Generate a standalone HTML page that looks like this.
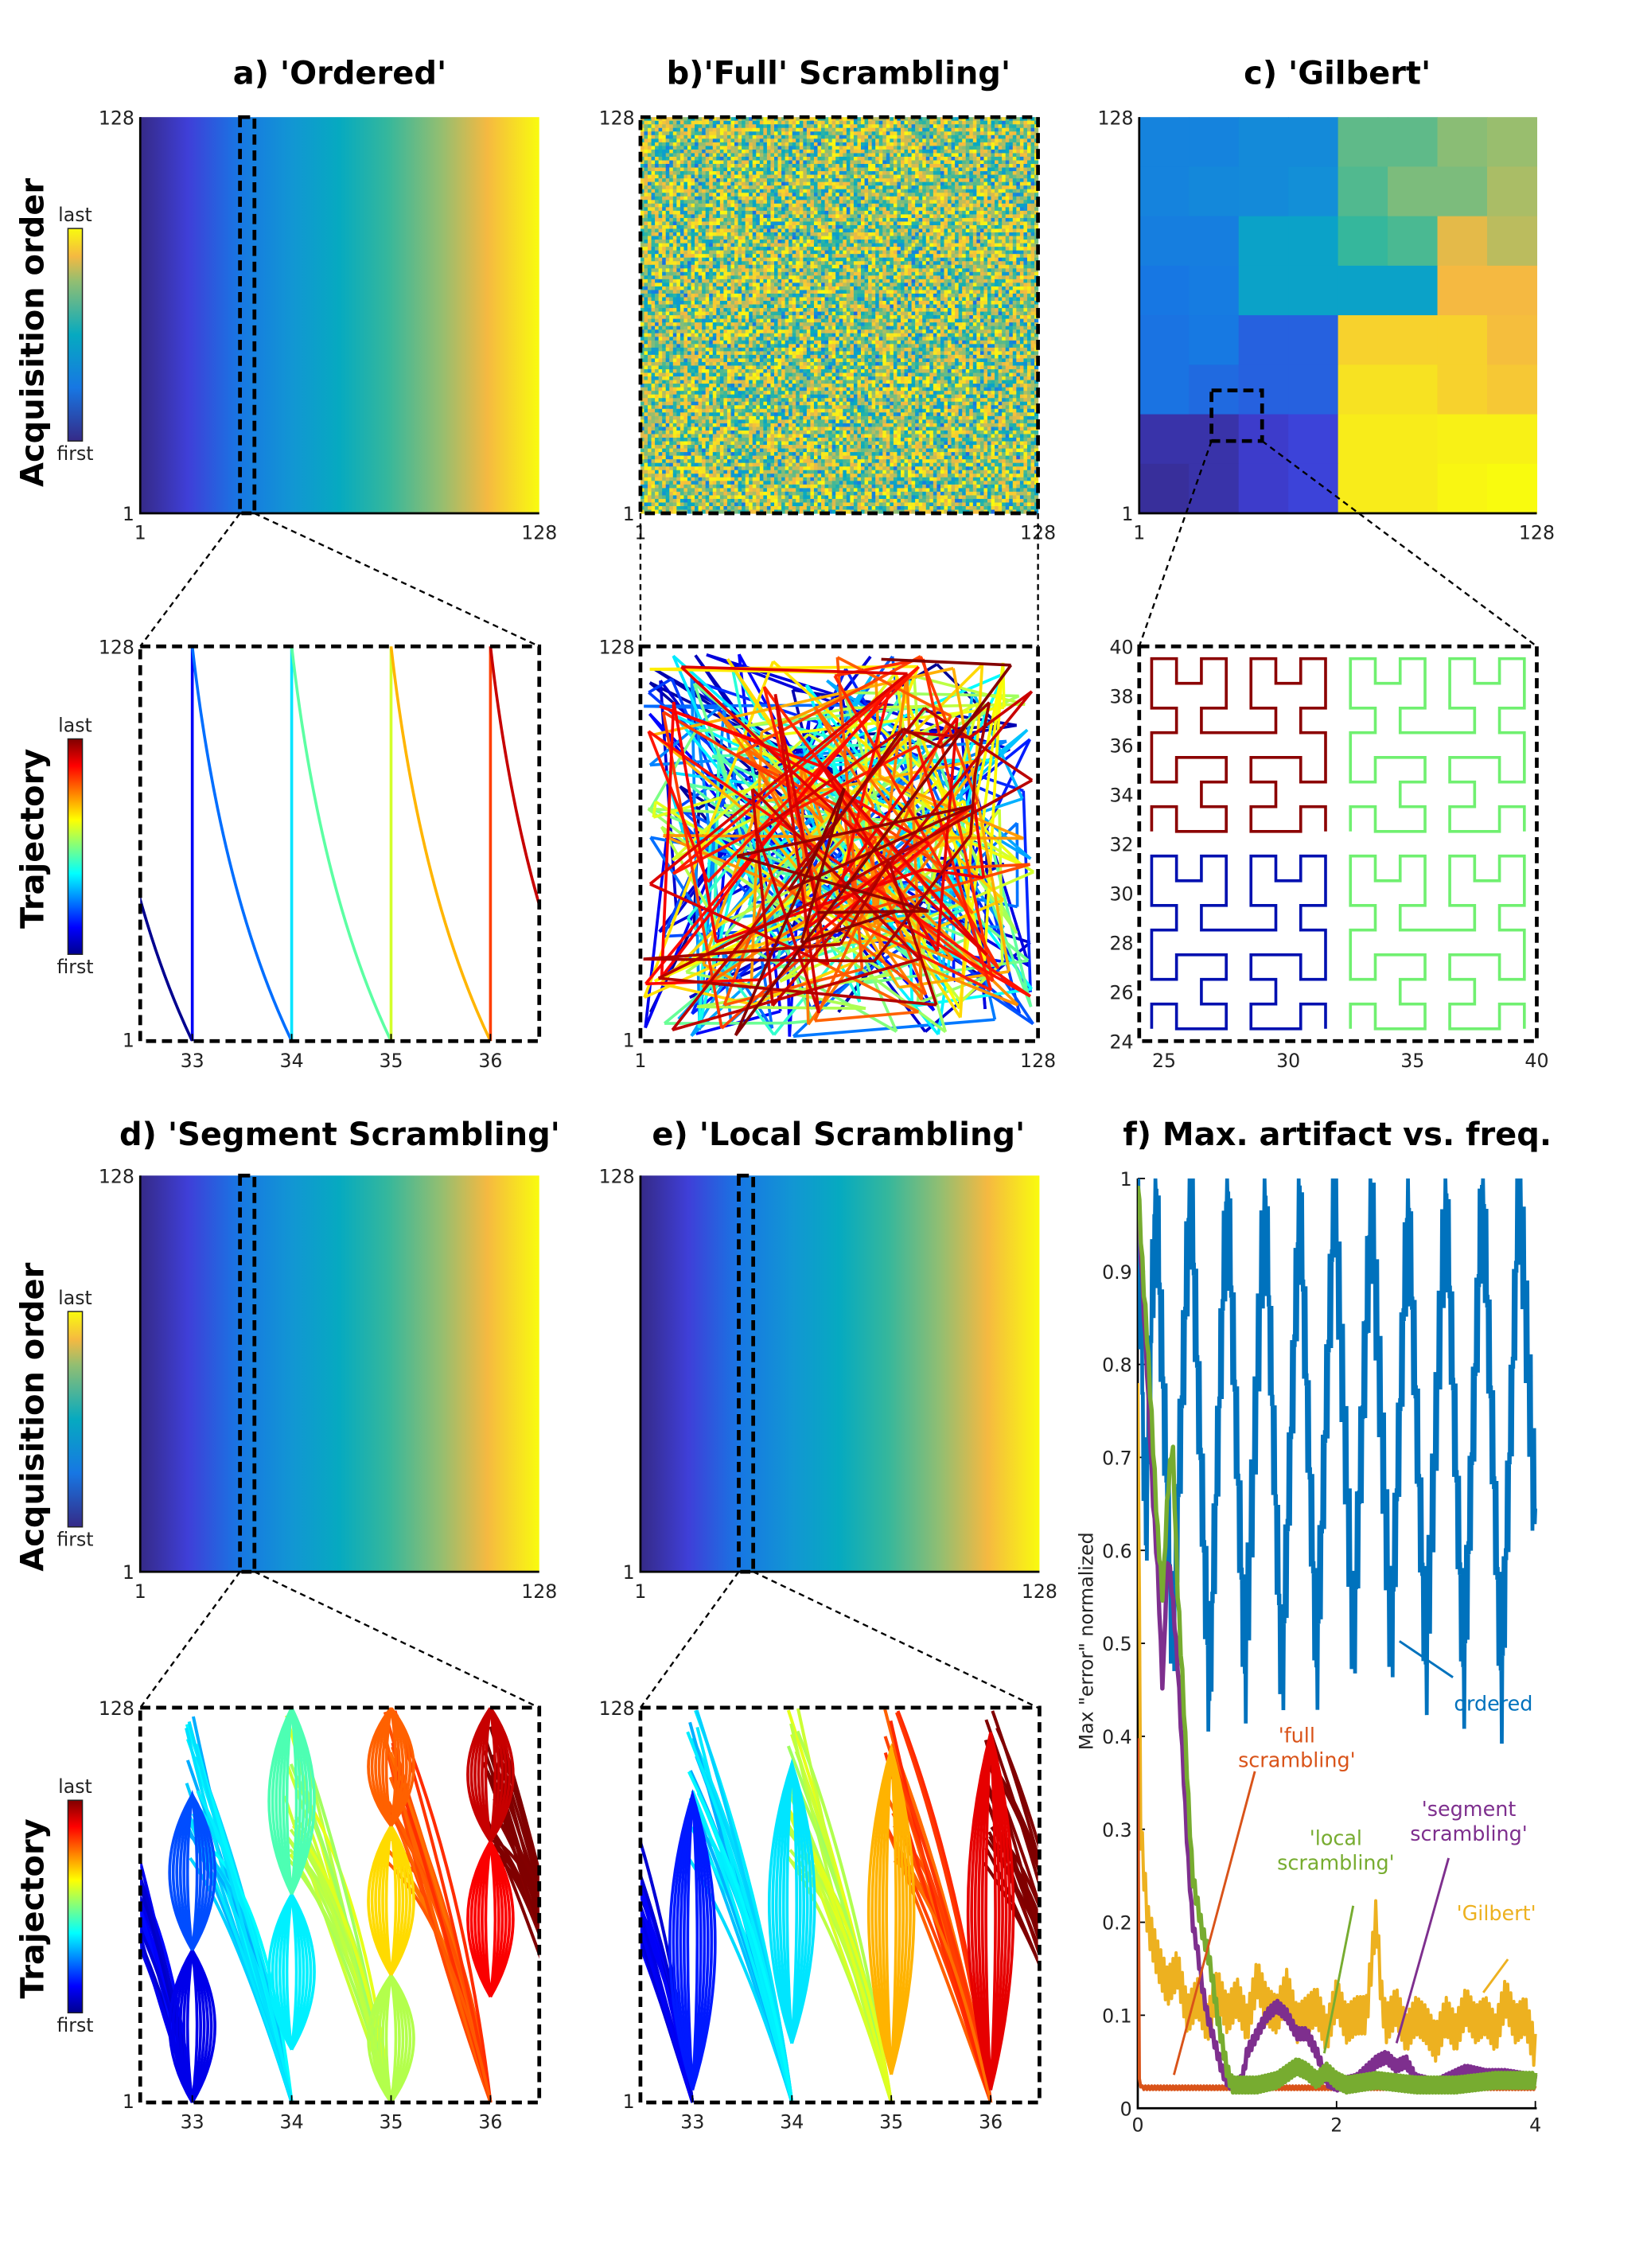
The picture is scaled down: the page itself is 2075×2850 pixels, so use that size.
<!DOCTYPE html>
<html><head><meta charset="utf-8"><style>
html,body{margin:0;padding:0;background:#fff;}
svg{display:block;font-family:"DejaVu Sans","Liberation Sans",sans-serif;}
</style></head><body>
<svg id="fig" width="2075" height="2850" viewBox="0 0 1142 1568.5" preserveAspectRatio="none" xmlns="http://www.w3.org/2000/svg">
<defs>
<linearGradient id="parH" x1="0" y1="0" x2="1" y2="0">
<stop offset="0" stop-color="#352a87"/><stop offset="0.12" stop-color="#3f3fd8"/><stop offset="0.25" stop-color="#1777e3"/><stop offset="0.38" stop-color="#1296d3"/><stop offset="0.5" stop-color="#06aac0"/><stop offset="0.62" stop-color="#35b79c"/><stop offset="0.75" stop-color="#91be72"/><stop offset="0.87" stop-color="#f5b941"/><stop offset="1" stop-color="#f9fb0e"/>
</linearGradient>
<linearGradient id="parV" x1="0" y1="1" x2="0" y2="0">
<stop offset="0" stop-color="#352a87"/><stop offset="0.25" stop-color="#1777e3"/><stop offset="0.5" stop-color="#06aac0"/><stop offset="0.75" stop-color="#91be72"/><stop offset="0.87" stop-color="#f5b941"/><stop offset="1" stop-color="#f9fb0e"/>
</linearGradient>
<linearGradient id="jetV" x1="0" y1="1" x2="0" y2="0">
<stop offset="0" stop-color="#00008f"/><stop offset="0.125" stop-color="#0000ff"/><stop offset="0.375" stop-color="#00ffff"/><stop offset="0.625" stop-color="#ffff00"/><stop offset="0.875" stop-color="#ff0000"/><stop offset="1" stop-color="#800000"/>
</linearGradient>
<clipPath id="cA2"><rect x="97" y="447" width="276" height="273"/></clipPath>
<clipPath id="cB2"><rect x="443" y="447" width="275" height="273"/></clipPath>
<clipPath id="cD2"><rect x="97" y="1181" width="276" height="274"/></clipPath>
<clipPath id="cE2"><rect x="443" y="1181" width="275" height="274"/></clipPath>
<clipPath id="cF"><rect x="787" y="812" width="277" height="647"/></clipPath>
</defs>
<g id="root"></g>
</svg>
<script>
// ---- panel f data ----
const ordPeakX=[0.0,0.18,0.53,0.9,1.28,1.63,1.98,2.35,2.72,3.1,3.47,3.84];
const ordPeakY=[1.0,1.0,1.0,1.0,0.99,0.98,0.99,0.98,0.98,0.99,1.0,1.0];
const ordTroughX=[0.08,0.35,0.72,1.08,1.45,1.8,2.17,2.55,2.9,3.28,3.66,4.0];
const ordTroughY=[0.62,0.5,0.45,0.47,0.46,0.48,0.5,0.5,0.48,0.47,0.46,0.63];
const localX=[0,0.05,0.1,0.15,0.2,0.25,0.3,0.35,0.4,0.45,0.5,0.55,0.6,0.65,0.7,0.75,0.8,0.85,0.9,0.95,1.0,1.1,1.2,1.4,1.6,1.7,1.8,1.9,2.0,2.1,2.4,2.8,3.2,3.6,4.0];
const localY=[1,0.9,0.82,0.72,0.62,0.55,0.66,0.72,0.56,0.46,0.35,0.25,0.22,0.19,0.17,0.14,0.1,0.07,0.04,0.025,0.025,0.025,0.025,0.03,0.045,0.04,0.03,0.04,0.03,0.025,0.03,0.025,0.025,0.03,0.03];
const segX=[0,0.05,0.1,0.15,0.2,0.25,0.3,0.35,0.4,0.45,0.5,0.55,0.6,0.65,0.7,0.75,0.8,0.85,0.9,0.95,1.0,1.05,1.1,1.2,1.3,1.4,1.5,1.6,1.7,1.8,1.9,2.0,2.2,2.4,2.5,2.6,2.7,2.8,3.0,3.3,3.5,3.7,4.0];
const segY=[0.98,0.88,0.78,0.66,0.58,0.45,0.6,0.55,0.48,0.38,0.28,0.2,0.17,0.13,0.1,0.08,0.06,0.04,0.03,0.025,0.025,0.03,0.06,0.08,0.1,0.11,0.1,0.08,0.08,0.06,0.03,0.025,0.03,0.05,0.055,0.045,0.05,0.03,0.025,0.04,0.035,0.035,0.03];
const gilX=[0,0.03,0.1,0.2,0.3,0.4,0.5,0.6,0.7,0.8,0.9,1.0,1.1,1.2,1.3,1.4,1.5,1.6,1.7,1.8,1.9,2.0,2.1,2.2,2.3,2.4,2.45,2.5,2.6,2.7,2.8,2.9,3.0,3.1,3.2,3.3,3.4,3.5,3.6,3.7,3.8,3.9,4.0];
const gilY=[0.8,0.3,0.2,0.16,0.13,0.15,0.1,0.12,0.09,0.13,0.1,0.12,0.09,0.14,0.11,0.1,0.13,0.09,0.1,0.11,0.08,0.12,0.09,0.1,0.1,0.21,0.12,0.09,0.11,0.08,0.1,0.09,0.07,0.1,0.08,0.11,0.09,0.1,0.08,0.12,0.09,0.1,0.06];
const fullX=[0,0.015,0.04,4];
const fullY=[0.4,0.03,0.022,0.022];
const fTicksY=[0,0.1,0.2,0.3,0.4,0.5,0.6,0.7,0.8,0.9,1];
const fTicksX=[0,2,4];
const gilGrid=[
[0.3,0.3,0.33,0.33,0.68,0.68,0.74,0.76],
[0.3,0.32,0.33,0.35,0.66,0.72,0.72,0.78],
[0.28,0.28,0.45,0.45,0.62,0.65,0.85,0.8],
[0.25,0.27,0.45,0.45,0.45,0.45,0.87,0.87],
[0.24,0.26,0.2,0.2,0.92,0.92,0.92,0.88],
[0.24,0.22,0.2,0.2,0.95,0.95,0.92,0.9],
[0.05,0.05,0.1,0.13,0.97,0.97,0.98,0.98],
[0.03,0.05,0.1,0.13,0.97,0.97,0.99,1.0]];

const NS='http://www.w3.org/2000/svg';
const root=document.getElementById('root');
function mk(tag,attrs,parent){const e=document.createElementNS(NS,tag);for(const k in attrs)e.setAttribute(k,attrs[k]);(parent||root).appendChild(e);return e;}
function txt(s,x,y,size,anchor,extra,parent){const e=mk('text',Object.assign({x:x,y:y,'font-size':size,'text-anchor':anchor||'middle',fill:'#222'},extra||{}),parent);e.textContent=s;return e;}
function lerpC(stops,t){t=Math.max(0,Math.min(1,t));for(let i=1;i<stops.length;i++){if(t<=stops[i][0]){const a=stops[i-1],b=stops[i];const u=(t-a[0])/(b[0]-a[0]||1);return 'rgb('+[1,2,3].map(j=>Math.round(a[j]+(b[j]-a[j])*u)).join(',')+')';}}const l=stops[stops.length-1];return 'rgb('+l[1]+','+l[2]+','+l[3]+')';}
const PAR=[[0,53,42,135],[0.12,63,63,216],[0.25,23,119,227],[0.38,18,150,211],[0.5,6,170,192],[0.62,53,183,156],[0.75,145,190,114],[0.87,245,185,65],[1,249,251,14]];
const JET=[[0,0,0,143],[0.125,0,0,255],[0.375,0,255,255],[0.625,255,255,0],[0.875,255,0,0],[1,128,0,0]];
const par=t=>lerpC(PAR,t), jet=t=>lerpC(JET,t);
let seed=12345;function rnd(){seed=(seed*1103515245+12345)%2147483648;return seed/2147483648;}

const colX=[97,443,788], W=276, H=274;
const rowY=[81,447,813,1181];

[['a) \'Ordered\'',235,58],['b)\'Full\' Scrambling\'',580,58],['c) \'Gilbert\'',925,58],['d) \'Segment Scrambling\'',235,792],['e) \'Local Scrambling\'',580,792],['f) Max. artifact vs. freq.',925,792]].forEach((t,i)=>{
 const e=txt(t[0],t[1],t[2],22,'middle',{'font-weight':'bold',fill:'#000'});
 
 
});

function rowLabel(label,cy,cbTop,cbBot,grad,name){
 const g=mk('g',{});
 
 
 txt(label,30,cy,22,'middle',{'font-weight':'bold',fill:'#000',transform:'rotate(-90 30 '+cy+')'},g);
 const r=mk('rect',{x:47,y:cbTop,width:10,height:cbBot-cbTop,fill:'url(#'+grad+')',stroke:'#222','stroke-width':0.8},g);
 
 
 txt('last',52,cbTop-5,13,'middle',{},g);
 txt('first',52,cbBot+13,13,'middle',{},g);
}
rowLabel('Acquisition order',230,158,305,'parV','row1-label');
rowLabel('Trajectory',580,511,660,'jetV','row2-label');
rowLabel('Acquisition order',980,907,1056,'parV','row3-label');
rowLabel('Trajectory',1320,1245,1392,'jetV','row4-label');

function axisFrame(x,y,w,h,dashed,name){
 const g=mk('g',{});
 
 
 if(dashed){mk('rect',{x:x,y:y,width:w,height:h,fill:'none',stroke:'#000','stroke-width':2.6,'stroke-dasharray':'7,4'},g);}
 else{mk('path',{d:'M'+x+' '+y+'V'+(y+h)+'H'+(x+w),fill:'none',stroke:'#000','stroke-width':1.5},g);}
 return g;
}
function stdTicks(x,y,w,h){
 txt('128',x-4,y+5,13,'end');txt('1',x-4,y+h+5,13,'end');
 txt('1',x,y+h+18,13,'middle');txt('128',x+w,y+h+18,13,'middle');
}

[[0,0,'panel-a-order'],[0,2,'panel-d-order'],[1,2,'panel-e-order']].forEach(p=>{
 const x=colX[p[0]],y=rowY[p[1]];
 const r=mk('rect',{x:x,y:y,width:W,height:H,fill:'url(#parH)'});
 
 
 axisFrame(x,y,W,H,false,p[2]+'-axes');
 stdTicks(x,y,W,H);
});
{const g=mk('g',{});
 
 
 const n=110,cw=275/n,ch=274/n;
 for(let i=0;i<n;i++)for(let j=0;j<n;j++){mk('rect',{x:(443+i*cw).toFixed(2),y:(81+j*ch).toFixed(2),width:(cw+0.3).toFixed(2),height:(ch+0.3).toFixed(2),fill:par(0.2+0.8*Math.sqrt(rnd()))},g);}
 axisFrame(443,81,275,274,true,'panel-b-axes');stdTicks(443,81,275,274);}
{const g=mk('g',{});
 
 
 const cw=275/8,ch=274/8;
 gilGrid.forEach((row,r)=>row.forEach((v,c)=>{mk('rect',{x:788+c*cw,y:81+r*ch,width:cw+0.3,height:ch+0.3,fill:par(v)},g);}));
 axisFrame(788,81,275,274,false,'panel-c-axes');stdTicks(788,81,275,274);}

function dash(d,name){const p=mk('path',{d:d,fill:'none',stroke:'#000','stroke-width':1.3,'stroke-dasharray':'4,3'});}
function bigdash(x,y,w,h,name){const p=mk('rect',{x:x,y:y,width:w,height:h,fill:'none',stroke:'#000','stroke-width':2.6,'stroke-dasharray':'7,4'});}
bigdash(166,81,10,274,'zoom-rect-a');dash('M166 355L97 447M176 355L373 447','zoom-lines-a');
dash('M443 355L443 447M718 355L718 447','zoom-lines-b');
bigdash(838,270,35,35,'zoom-rect-c');dash('M838 305L788 447M873 305L1063 447','zoom-lines-c');
bigdash(166,813,10,274,'zoom-rect-d');dash('M166 1087L97 1181M176 1087L373 1181','zoom-lines-d');
bigdash(511,813,10,274,'zoom-rect-e');dash('M511 1087L443 1181M521 1087L718 1181','zoom-lines-e');

const tx=(x,x0)=>x0+36+(x-33)*68.75;
function ty(v,y0){return y0+273-(v-1)/127*273;}
function trajTicks(x0,y0){
 [33,34,35,36].forEach(k=>{mk('line',{x1:tx(k,x0),x2:tx(k,x0),y1:y0+273,y2:y0+268,stroke:'#000','stroke-width':1});txt(String(k),tx(k,x0),y0+291,13,'middle');});
 txt('128',x0-4,y0+5,13,'end');txt('1',x0-4,y0+277,13,'end');
}
{const x0=97,y0=447;const g=mk('g',{'clip-path':'url(#cA2)'});
 
 
 [32,33,34,35,36].forEach((k,i)=>{
  const c=jet(i/4.3);
  const xa=tx(k,x0),ya=ty(128,y0),xb=tx(k+1,x0),yb=ty(1,y0);
  mk('path',{d:'M'+xa+' '+ya+'Q'+(xa+0.28*68.75)+' '+(ya+0.62*273)+' '+xb+' '+yb,fill:'none',stroke:c,'stroke-width':2},g);
  mk('line',{x1:xb,x2:xb,y1:yb,y2:ya,stroke:jet((i+0.5)/4.3),'stroke-width':2},g);
 });
 axisFrame(x0,y0,276,273,true,'panel-a-traj-axes');trajTicks(x0,y0);}
{const g=mk('g',{'clip-path':'url(#cB2)'});
 
 
 let px=450,py=700;const N=420;
 for(let i=0;i<N;i++){const nx=445+rnd()*271,ny=452+rnd()*266;mk('line',{x1:px.toFixed(1),y1:py.toFixed(1),x2:nx.toFixed(1),y2:ny.toFixed(1),stroke:jet(i/N),'stroke-width':2},g);px=nx;py=ny;}
 axisFrame(443,447,275,273,true,'panel-b-traj-axes');
 txt('128',439,452,13,'end');txt('1',439,724,13,'end');txt('1',443,738,13,'middle');txt('128',718,738,13,'middle');}
{const g=mk('g',{});
 
 
 const cx=v=>788+(v-24)*275/16, cy=v=>720-(v-24)*273/16;
 function d2xy(n,d){let x=0,y=0,t=d;for(let s=1;s<n;s*=2){const rx=1&(t>>1),ry=1&(t^rx);if(ry===0){if(rx===1){x=s-1-x;y=s-1-y;}const tmp=x;x=y;y=tmp;}x+=s*rx;y+=s*ry;t>>=2;}return [x,y];}
 function hil(ox,oy,col,name){let d='';for(let i=0;i<64;i++){const p=d2xy(8,i);const X=ox+(p[0]+0.5),Y=oy+(p[1]+0.5);d+=(i?'L':'M')+cx(X).toFixed(1)+' '+cy(Y).toFixed(1);}const e=mk('path',{d:d,fill:'none',stroke:col,'stroke-width':2},g);}
 hil(24,24,'#0010b0','hilbert-blue');
 hil(24,32,'#8b0000','hilbert-red');
 hil(32,24,'#70f070','hilbert-green-low');
 hil(32,32,'#70f070','hilbert-green-high');
 axisFrame(788,447,275,273,true,'panel-c-traj-axes');
 [24,26,28,30,32,34,36,38,40].forEach(v=>txt(String(v),784,cy(v)+5,13,'end'));
 [25,30,35,40].forEach(v=>txt(String(v),cx(v),738,13,'middle'));}
function bundles(x0,y0,clip,name,lobes,nb){
 const g=mk('g',{'clip-path':'url(#'+clip+')'});
 
 
 [32,33,34,35,36].forEach((k,i)=>{
  const base=i/4.3;
  for(let j=0;j<nb;j++){
   const off=(rnd()-0.5)*0.35, bend=(rnd()-0.3)*0.35;
   const xa=tx(k+off*0.4,x0),xb=tx(k+1,x0),yb=ty(1,y0);
   const sy=ty(128-rnd()*50,y0);
   mk('path',{d:'M'+xa.toFixed(1)+' '+sy.toFixed(1)+'Q'+tx(k+0.5+bend,x0).toFixed(1)+' '+ty(64+off*60,y0).toFixed(1)+' '+xb.toFixed(1)+' '+yb.toFixed(1),fill:'none',stroke:jet(base+0.06+rnd()*0.08),'stroke-width':2.2},g);
  }
 });
 lobes.forEach(L=>{const k=L[0],a=L[1],b=L[2],c=jet(L[3]);
  for(let j=0;j<6;j++){const w=(0.06+j*0.045)*68.75;const xk=tx(k,x0),ya=ty(a,y0),yb=ty(b,y0),ym=(ya+yb)/2;
   mk('path',{d:'M'+xk+' '+ya+'Q'+(xk-w*1.6)+' '+ym+' '+xk+' '+yb+'Q'+(xk+w*1.6)+' '+ym+' '+xk+' '+ya,fill:'none',stroke:c,'stroke-width':2},g);}
 });
 axisFrame(x0,y0,276,273,true,name+'-axes');trajTicks(x0,y0);
}
bundles(97,1181,'cD2','panel-d-trajectory',[[33,1,50,0.1],[33,50,100,0.2],[34,18,68,0.36],[34,68,128,0.45],[35,1,42,0.55],[35,42,90,0.66],[35,90,128,0.78],[36,35,85,0.88],[36,85,128,0.93]],22);
bundles(443,1181,'cE2','panel-e-trajectory',[[33,5,100,0.15],[34,20,110,0.35],[35,10,115,0.7],[36,5,120,0.9]],20);

const fx=v=>787+v*(1062-787)/4, fy=v=>1458-v*(1458-815);
{const g=mk('g',{});
 
 
 mk('path',{d:'M787 815V1458H1063',fill:'none',stroke:'#000','stroke-width':1.5},g);
 fTicksY.forEach(v=>{mk('line',{x1:787,x2:792,y1:fy(v),y2:fy(v),stroke:'#000'},g);txt(String(v),783,fy(v)+5,13,'end',{},g);});
 fTicksX.forEach(v=>{mk('line',{x1:fx(v),x2:fx(v),y1:1458,y2:1453,stroke:'#000'},g);txt(String(v),fx(v),1474,13,'middle',{},g);});
 const yl=txt('Max "error" normalized',756,1135,13,'middle',{transform:'rotate(-90 756 1135)'},g);
 
 }
function interp(X,Y,x){for(let i=1;i<X.length;i++){if(x<=X[i]){const u=(x-X[i-1])/(X[i]-X[i-1]);return Y[i-1]+(Y[i]-Y[i-1])*u;}}return Y[Y.length-1];}
function seriesPath(X,Y,col,w,name,jit){
 let d='';let n=0;
 const N=jit?260:X.length;
 for(let i=0;i<N;i++){const x=jit?X[0]+(X[X.length-1]-X[0])*i/(N-1):X[i];let y=jit?interp(X,Y,x):Y[i];if(jit)y+=(i%2?1:-1)*jit;d+=(n++?'L':'M')+fx(x).toFixed(1)+' '+fy(y).toFixed(1);}
 const p=mk('path',{d:d,fill:'none',stroke:col,'stroke-width':w,'stroke-linejoin':'round','clip-path':'url(#cF)'});
 
 
}
{const pts=[];ordPeakX.forEach((x,i)=>pts.push([x,ordPeakY[i]]));ordTroughX.forEach((x,i)=>pts.push([x,ordTroughY[i]]));pts.sort((a,b)=>a[0]-b[0]);
 const X=pts.map(p=>p[0]),Y=pts.map(p=>p[1]);
 let d='';const N=700;
 for(let i=0;i<N;i++){const x=4*i/(N-1);let y=interp(X,Y,x);y+=(i%2?1:-1)*0.045+((i%6)<3?0.03:-0.03);y=Math.min(1,y);d+=(i?'L':'M')+fx(x).toFixed(1)+' '+fy(y).toFixed(1);}
 const p=mk('path',{d:d,fill:'none',stroke:'#0072bd','stroke-width':2.6,'clip-path':'url(#cF)'});
 
 }
seriesPath(gilX,gilY,'#edb120',2.2,'series-gilbert',0.02);
seriesPath(fullX,fullY,'#d95319',2.2,'series-full-scrambling',0.002);
seriesPath(segX,segY,'#7e2f8e',3,'series-segment-scrambling',0.006);
seriesPath(localX,localY,'#77ac30',3,'series-local-scrambling',0.008);
function ann(lines,cx,cy,col,ld,name){const g=mk('g',{});
 lines.forEach((s,i)=>txt(s,cx,cy+i*17,14,'middle',{fill:col},g));mk('path',{d:ld,stroke:col,'stroke-width':1.6,fill:'none'},g);}
ann(['ordered'],1033,1183,'#0072bd','M968 1135L1005 1160','label-ordered');
ann(['\'full','scrambling\''],897,1205,'#d95319','M812 1435L868 1225','label-full');
ann(['\'local','scrambling\''],924,1276,'#77ac30','M916 1420L936 1318','label-local');
ann(['\'segment','scrambling\''],1016,1256,'#7e2f8e','M966 1413L1002 1285','label-segment');
ann(['\'Gilbert\''],1035,1328,'#edb120','M1026 1378L1043 1355','label-gilbert');
</script>
</body></html>
